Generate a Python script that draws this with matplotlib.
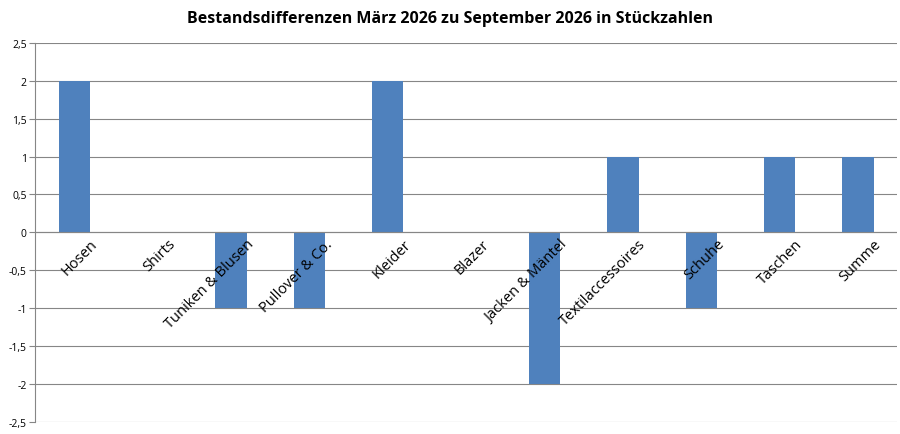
import matplotlib.pyplot as plt
import numpy as np

categories = ['Hosen', 'Shirts', 'Tuniken & Blusen', 'Pullover & Co.', 'Kleider', 'Blazer',
              'Jacken & Mäntel', 'Textilaccessoires', 'Schuhe', 'Taschen', 'Summe']
values = [2, 0, -1, -1, 2, 0, -2, 1, -1, 1, 1]
yticks = [-2.5, -2, -1.5, -1, -0.5, 0, 0.5, 1, 1.5, 2, 2.5]

plt.rcParams['font.family'] = ['Open Sans', 'DejaVu Sans']

fig = plt.figure(figsize=(9, 4.35), dpi=100)
ax = fig.add_axes([0.039, 0.028, 0.958, 0.871])

x = np.arange(len(categories))
ax.bar(x, values, width=0.4, color='#4f81bd', zorder=3)

ax.set_xlim(-0.5, len(categories) - 0.5)
ax.set_ylim(-2.5, 2.5)
ax.set_yticks(yticks)
ax.set_yticklabels([f'{v:g}'.replace('.', ',') for v in yticks], fontsize=7.5)
ax.yaxis.grid(True, color='#868686', linewidth=0.8, zorder=0)
ax.axhline(0, color='#868686', linewidth=0.8, zorder=4)
ax.set_xticks([])
for s in ['top', 'right', 'bottom']:
    ax.spines[s].set_visible(False)
ax.spines['left'].set_color('#868686')
ax.tick_params(axis='y', length=4, color='#868686', pad=2)

for i, c in enumerate(categories):
    ax.text(i + 0.2, -0.05, c, rotation=45, ha='right', va='top',
            rotation_mode='anchor', fontsize=10.5, zorder=5)

fig.suptitle('Bestandsdifferenzen März 2026 zu September 2026 in Stückzahlen',
             y=0.975, fontsize=11.5, fontweight='bold')

fig.savefig('out.png', dpi=100)
